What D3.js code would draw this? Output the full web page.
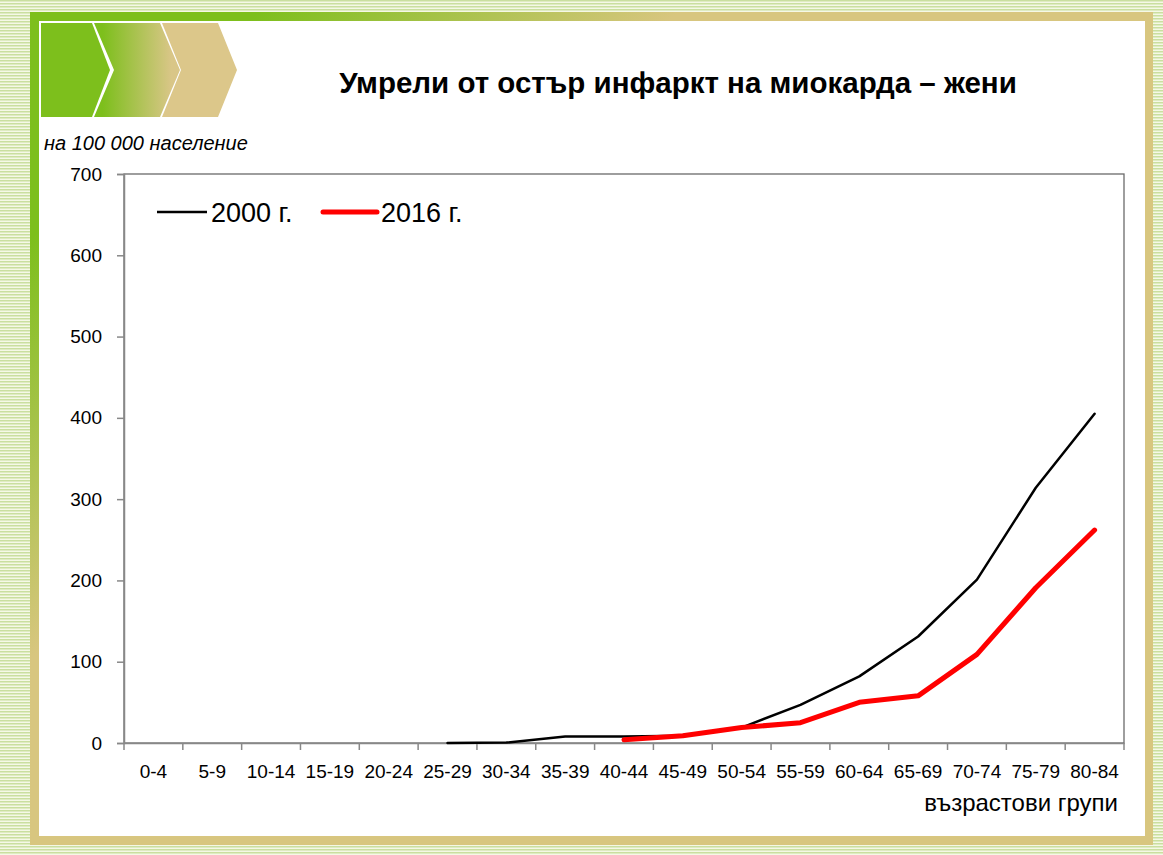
<!DOCTYPE html>
<html>
<head>
<meta charset="utf-8">
<script src="https://cdn.jsdelivr.net/npm/d3@7"></script>
<style>
    html, body { margin: 0; padding: 0; background: #fff; }
    svg { display: block; font-family: Arial, "Liberation Sans", sans-serif; }
</style>
</head>
<body>
<div id="chart"></div>
<script>
// defining data
const ageGroups = ['0-4','5-9','10-14','15-19','20-24','25-29','30-34','35-39','40-44',
    '45-49','50-54','55-59','60-64','65-69','70-74','75-79','80-84'];
const deaths2000 = [null,null,null,null,null,0,0.5,8,8,9,19,47,82,131,201,314,405];
const deaths2016 = [null,null,null,null,null,null,null,null,4,9,19,25,50,58,109,191,262];
const yTicks = [0,100,200,300,400,500,600,700];
const seriesNames = ['2000 г.','2016 г.'];

// defining global variables
const W = 1163, H = 855;
const margin = {t:174, r:39, b:112, l:124};
const green = '#7dbf1c', tan = '#d8c67f';

const svg = d3.select('#chart')
    .append('svg')
    .attr('width', W)
    .attr('height', H);

const defs = svg.append('defs');

// striped page background
const stripes = defs.append('pattern')
    .attr('id', 'stripes')
    .attr('patternUnits', 'userSpaceOnUse')
    .attr('width', 6)
    .attr('height', 3);
stripes.append('rect').attr('width', 6).attr('height', 3).attr('fill', '#f5f8e6');
stripes.append('rect').attr('width', 6).attr('height', 1.5).attr('fill', '#cadf9f');

// frame gradient, green top-left to tan bottom-right
const frameGrad = defs.append('linearGradient')
    .attr('id', 'frameGrad')
    .attr('gradientUnits', 'userSpaceOnUse')
    .attr('x1', 135).attr('y1', 135)
    .attr('x2', 345).attr('y2', 345);
frameGrad.append('stop').attr('offset', 0).attr('stop-color', green);
frameGrad.append('stop').attr('offset', 1).attr('stop-color', tan);

// middle chevron gradient
const chevGrad = defs.append('linearGradient')
    .attr('id', 'chevGrad')
    .attr('x1', 0).attr('x2', 1).attr('y1', 0).attr('y2', 0);
chevGrad.append('stop').attr('offset', 0.1).attr('stop-color', green);
chevGrad.append('stop').attr('offset', 0.9).attr('stop-color', '#d9c687');

svg.append('rect')
    .attr('width', W)
    .attr('height', H)
    .attr('fill', 'url(#stripes)');

svg.append('rect')
    .attr('x', 30).attr('y', 12)
    .attr('width', 1123).attr('height', 833)
    .attr('fill', 'url(#frameGrad)');

svg.append('rect')
    .attr('x', 39).attr('y', 21)
    .attr('width', 1106).attr('height', 815)
    .attr('fill', '#fff');

// chevron banner
const chevrons = [
    {x0:41, x1:92, tip:110, fill:green, flat:true},
    {x0:94, x1:160, tip:180, fill:'url(#chevGrad)', flat:false},
    {x0:162, x1:218, tip:237, fill:'#dcc78a', flat:false}
];
const cTop = 23, cBot = 117, cMid = 70;
svg.append('g')
    .classed('chevrons', true)
    .selectAll('path')
    .data(chevrons)
    .enter()
    .append('path')
    .attr('d', d => {
        const notch = d.flat ? d.x0 : d.x0 + (d.tip - d.x1);
        return `M${d.x0},${cTop}L${d.x1},${cTop}L${d.tip},${cMid}L${d.x1},${cBot}L${d.x0},${cBot}L${notch},${cMid}Z`;
    })
    .attr('fill', d => d.fill);

// title and subtitle
svg.append('text')
    .attr('x', 678)
    .attr('y', 93)
    .attr('text-anchor', 'middle')
    .style('font-size', '29.5px')
    .style('font-weight', 'bold')
    .text('Умрели от остър инфаркт на миокарда – жени');

svg.append('text')
    .attr('x', 44)
    .attr('y', 150)
    .style('font-size', '20px')
    .style('font-style', 'italic')
    .text('на 100 000 население');

// scales
const x = d3.scaleBand()
    .domain(ageGroups)
    .range([margin.l, W - margin.r]);

const y = d3.scaleLinear()
    .domain([0, 700])
    .range([H - margin.b, margin.t]);

const cx = d => x(d) + x.bandwidth() / 2;

const plot = svg.append('g').classed('plot', true);

// plot box
plot.append('rect')
    .attr('x', margin.l)
    .attr('y', y(700))
    .attr('width', W - margin.r - margin.l)
    .attr('height', y(0) - y(700))
    .attr('fill', 'none')
    .attr('stroke', '#6a6a6a')
    .attr('stroke-width', 1.3);

// y axis
const yAxis = plot.append('g')
    .attr('transform', `translate(${margin.l},0)`)
    .call(d3.axisLeft(y).tickValues(yTicks).tickSize(7).tickPadding(15).tickFormat(d3.format('d')));
yAxis.select('.domain').attr('stroke', '#888').attr('stroke-width', 1.5);
yAxis.selectAll('.tick line').attr('stroke', '#888').attr('stroke-width', 1.5);
yAxis.selectAll('.tick text')
    .style('font-size', '19px')
    .attr('fill', '#000')
    .attr('font-family', null);

// x axis
const xAxis = plot.append('g')
    .attr('transform', `translate(0,${y(0)})`)
    .call(d3.axisBottom(x).tickSize(0).tickPadding(22));
xAxis.select('.domain').attr('stroke', '#888').attr('stroke-width', 1.5);
xAxis.selectAll('.tick text')
    .style('font-size', '19px')
    .attr('fill', '#000')
    .attr('font-family', null);

// boundary tick marks between categories
xAxis.selectAll('.bound')
    .data(ageGroups.concat(['end']))
    .enter()
    .append('line')
    .classed('bound', true)
    .attr('x1', (d, i) => i < ageGroups.length ? x(d) : x.range()[1])
    .attr('x2', (d, i) => i < ageGroups.length ? x(d) : x.range()[1])
    .attr('y1', 0)
    .attr('y2', 7)
    .attr('stroke', '#888')
    .attr('stroke-width', 1.5);

svg.append('text')
    .attr('x', 1118)
    .attr('y', 811)
    .attr('text-anchor', 'end')
    .style('font-size', '24px')
    .text('възрастови групи');

// lines
const line = d3.line()
    .defined(d => d.v != null)
    .x(d => cx(d.age))
    .y(d => y(d.v));

const series = [
    {name: seriesNames[0], values: deaths2000, color: '#000', width: 2.5},
    {name: seriesNames[1], values: deaths2016, color: '#ff0000', width: 5}
];

plot.selectAll('.series')
    .data(series)
    .enter()
    .append('path')
    .classed('series', true)
    .attr('d', s => line(s.values.map((v, i) => ({age: ageGroups[i], v}))))
    .attr('fill', 'none')
    .attr('stroke', s => s.color)
    .attr('stroke-width', s => s.width)
    .attr('stroke-linejoin', 'round')
    .attr('stroke-linecap', 'round');

// legend
const legendPos = [{x:157, w:50}, {x:323, w:54}];
const legend = svg.append('g')
    .classed('legend', true)
    .selectAll('g')
    .data(series)
    .enter()
    .append('g')
    .attr('transform', (d, i) => `translate(${legendPos[i].x},212)`);
legend.append('line')
    .attr('x1', 0)
    .attr('x2', (d, i) => legendPos[i].w)
    .attr('stroke', d => d.color)
    .attr('stroke-width', d => d.width)
    .attr('stroke-linecap', (d, i) => i ? 'round' : 'butt');
legend.append('text')
    .attr('x', (d, i) => legendPos[i].w + 4)
    .attr('y', 10)
    .style('font-size', '27px')
    .text(d => d.name);
</script>
</body>
</html>
